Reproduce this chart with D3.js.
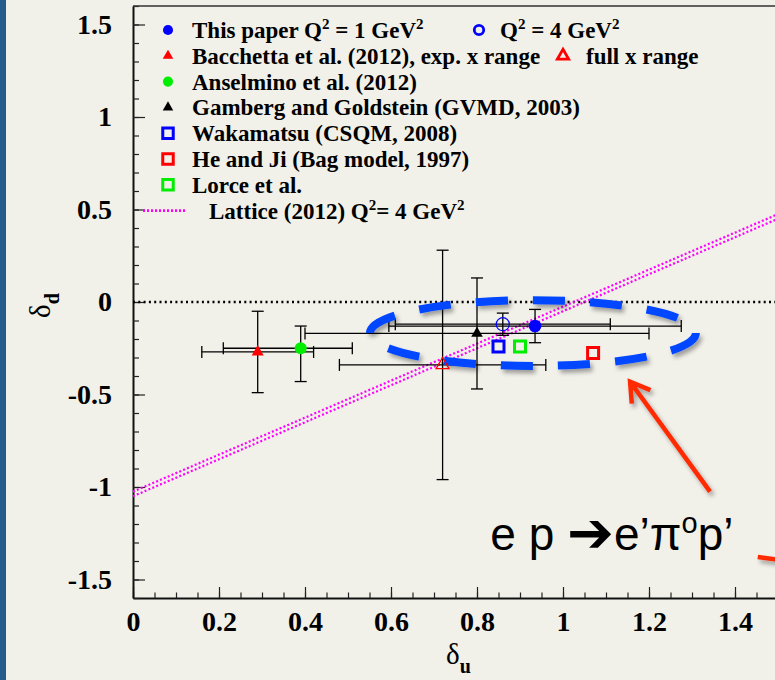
<!DOCTYPE html>
<html>
<head>
<meta charset="utf-8">
<script src="https://cdn.jsdelivr.net/npm/d3@7"></script>
<style>
  html, body { margin: 0; padding: 0; background: #f1f0e9; }
  svg { display: block; }
</style>
</head>
<body>
<svg id="chart" width="775" height="680"></svg>
<script>
// ---- values: delta_u (tensor charge of u) vs delta_d ----
// each entry: u, d, and asymmetric errors [minus, plus]
const thisPaperQ1   = [{ u: 0.935, d: -0.13, uErr: [0.34, 0.34], dErr: [0.09, 0.09] }];
const thisPaperQ4   = [{ u: 0.86,  d: -0.12, uErr: [0.25, 0.25], dErr: [0.06, 0.06] }];
const bacchettaExp  = [{ u: 0.29,  d: -0.27, uErr: [0.13, 0.13], dErr: [0.22, 0.22] }];
const bacchettaFull = [{ u: 0.72,  d: -0.34, uErr: [0.24, 0.24], dErr: [0.62, 0.62] }];
const anselmino     = [{ u: 0.39,  d: -0.25, uErr: [0.18, 0.12], dErr: [0.18, 0.12] }];
const gamberg       = [{ u: 0.80,  d: -0.17, uErr: [0.40, 0.40], dErr: [0.30, 0.30] }];
const wakamatsu     = [{ u: 0.85,  d: -0.24 }];
const heJi          = [{ u: 1.07,  d: -0.275 }];
const lorce         = [{ u: 0.90,  d: -0.24 }];
// lattice band: delta_u - delta_d = g_T, two bounding lines
const latticeGT     = [1.025, 1.05];

// axis ticks
const xMajorTicks = [0, 0.2, 0.4, 0.6, 0.8, 1.0, 1.2, 1.4];
const xTickLabels = ["0", "0.2", "0.4", "0.6", "0.8", "1", "1.2", "1.4"];
const yMajorTicks = [-1.5, -1, -0.5, 0, 0.5, 1, 1.5];
const yTickLabels = ["-1.5", "-1", "-0.5", "0", "0.5", "1", "1.5"];

// annotation: highlighted region and the reaction label
const ellipseCenter = [0.93, -0.168];
const ellipseRadii  = [0.379, 0.178];
const arrowTail = [1.342, -1.025], arrowTip = [1.156, -0.431];
const sideArrowStart = [1.453, -1.378], sideArrowEnd = [1.52, -1.40];
const reactionAt = [0.831, -1.34];

// ---- layout ----
const svg = d3.select("#chart");
const x = d3.scaleLinear().domain([0, 1.5]).range([133, 778]);
const y = d3.scaleLinear().domain([-1.6, 1.6]).range([598, 6]);

const defs = svg.append("defs");
const f = defs.append("filter").attr("id", "shadow")
  .attr("x", "-20%").attr("y", "-40%").attr("width", "150%").attr("height", "200%");
f.append("feDropShadow").attr("dx", 2.5).attr("dy", 3.5).attr("stdDeviation", 2)
  .attr("flood-color", "#000").attr("flood-opacity", 0.35);

// blue strip on the left edge
svg.append("rect").attr("x", 0).attr("y", 0).attr("width", 6).attr("height", 680).attr("fill", "#265b8e");

const serif = "'Liberation Serif', 'Times New Roman', serif";

// ---- axes ----
const gx = svg.append("g").attr("transform", `translate(0,${y(-1.6)})`);
gx.call(d3.axisBottom(x).tickValues(d3.range(0, 1.5001, 0.05)).tickSize(-5.5).tickSizeOuter(0).tickFormat(""));
gx.selectAll(".tick line").attr("stroke", "#222").attr("stroke-width", 1.2);
gx.select(".domain").attr("stroke", "#111").attr("stroke-width", 2);
const gx2 = svg.append("g").attr("transform", `translate(0,${y(-1.6)})`);
gx2.call(d3.axisBottom(x).tickValues(xMajorTicks).tickSize(-11).tickSizeOuter(0).tickPadding(13)
  .tickFormat((d, i) => xTickLabels[i]));
gx2.select(".domain").remove();
gx2.selectAll(".tick line").attr("stroke", "#222").attr("stroke-width", 1.2);
gx2.selectAll("text").attr("font-family", serif).attr("font-weight", "bold").attr("font-size", 28).attr("fill", "#000");

const gy = svg.append("g").attr("transform", `translate(${x(0)},0)`);
gy.call(d3.axisLeft(y).tickValues(d3.range(-1.6, 1.6001, 0.1).map(v => +v.toFixed(2))).tickSize(-6).tickSizeOuter(0).tickFormat(""));
gy.selectAll(".tick line").attr("stroke", "#222").attr("stroke-width", 1.2);
gy.select(".domain").attr("stroke", "#111").attr("stroke-width", 2);
const gy2 = svg.append("g").attr("transform", `translate(${x(0)},0)`);
gy2.call(d3.axisLeft(y).tickValues(yMajorTicks).tickSize(-12).tickSizeOuter(0).tickPadding(21)
  .tickFormat((d, i) => yTickLabels[i]));
gy2.select(".domain").remove();
gy2.selectAll(".tick line").attr("stroke", "#222").attr("stroke-width", 1.2);
gy2.selectAll("text").attr("font-family", serif).attr("font-weight", "bold").attr("font-size", 28).attr("fill", "#000");

// top frame line
svg.append("line").attr("x1", x(0)).attr("x2", x(1.5)).attr("y1", y(1.6)).attr("y2", y(1.6))
  .attr("stroke", "#333").attr("stroke-width", 1.5);

// axis titles
const xt = svg.append("text").attr("x", 446).attr("y", 664).attr("font-family", serif).attr("font-size", 29).attr("fill", "#000");
xt.append("tspan").text("δ");
xt.append("tspan").attr("font-size", 20).attr("font-weight", "bold").attr("dy", 9).text("u");
const yt = svg.append("text").attr("transform", "translate(50,318) rotate(-90)").attr("font-family", serif).attr("font-size", 29).attr("fill", "#000");
yt.append("tspan").text("δ");
yt.append("tspan").attr("font-size", 20).attr("font-weight", "bold").attr("dy", 9).text("d");

// ---- reference lines ----
const plot = svg.append("g");
plot.append("line").attr("x1", x(0)).attr("x2", x(1.5)).attr("y1", y(0)).attr("y2", y(0))
  .attr("stroke", "#000").attr("stroke-width", 2.5).attr("stroke-dasharray", "2 3.3");
latticeGT.forEach(g => {
  plot.append("line")
    .attr("x1", x(0)).attr("y1", y(0 - g))
    .attr("x2", x(1.5)).attr("y2", y(1.5 - g))
    .attr("stroke", "#ff00ff").attr("stroke-width", 2.2).attr("stroke-dasharray", "2 2.2");
});

// ---- error bars ----
const cap = 6;
function errorBars(data) {
  data.filter(p => p.uErr).forEach(p => {
    const g = plot.append("g").attr("stroke", "#000").attr("stroke-width", 1.3).attr("fill", "none");
    const u0 = x(p.u - p.uErr[0]), u1 = x(p.u + p.uErr[1]);
    const d0 = y(p.d - p.dErr[0]), d1 = y(p.d + p.dErr[1]);
    g.append("line").attr("x1", u0).attr("x2", u1).attr("y1", y(p.d)).attr("y2", y(p.d));
    g.append("line").attr("x1", u0).attr("x2", u0).attr("y1", y(p.d) - cap).attr("y2", y(p.d) + cap);
    g.append("line").attr("x1", u1).attr("x2", u1).attr("y1", y(p.d) - cap).attr("y2", y(p.d) + cap);
    g.append("line").attr("x1", x(p.u)).attr("x2", x(p.u)).attr("y1", d0).attr("y2", d1);
    g.append("line").attr("x1", x(p.u) - cap).attr("x2", x(p.u) + cap).attr("y1", d0).attr("y2", d0);
    g.append("line").attr("x1", x(p.u) - cap).attr("x2", x(p.u) + cap).attr("y1", d1).attr("y2", d1);
  });
}
[bacchettaExp, anselmino, gamberg, bacchettaFull, thisPaperQ4, thisPaperQ1].forEach(errorBars);

// ---- markers ----
const styles = {
  q1:    { type: d3.symbolCircle,   size: 125, fill: "#0000ff", stroke: "none", sw: 0 },
  q4:    { type: d3.symbolCircle,   size: 135, fill: "none",    stroke: "#0000ff", sw: 1.2 },
  bExp:  { type: d3.symbolTriangle, size: 62,  fill: "#ff0000", stroke: "none", sw: 0 },
  bFull: { type: d3.symbolTriangle, size: 72,  fill: "none",    stroke: "#ff0000", sw: 1.3 },
  ans:   { type: d3.symbolCircle,   size: 115, fill: "#00ee00", stroke: "none", sw: 0 },
  gam:   { type: d3.symbolTriangle, size: 58,  fill: "#000",    stroke: "none", sw: 0 },
  wak:   { type: d3.symbolSquare,   size: 121, fill: "none",    stroke: "#0000ff", sw: 3 },
  he:    { type: d3.symbolSquare,   size: 121, fill: "none",    stroke: "#ff0000", sw: 3 },
  lor:   { type: d3.symbolSquare,   size: 121, fill: "none",    stroke: "#00ee00", sw: 3 }
};
function markers(data, s) {
  plot.selectAll(null).data(data).join("path")
    .attr("transform", p => `translate(${x(p.u)},${y(p.d)})`)
    .attr("d", d3.symbol().type(s.type).size(s.size))
    .attr("fill", s.fill).attr("stroke", s.stroke).attr("stroke-width", s.sw);
}

// highlighted region drawn under the model points (12 dashes around)
plot.append("ellipse")
  .attr("cx", x(ellipseCenter[0])).attr("cy", y(ellipseCenter[1]))
  .attr("rx", x(ellipseRadii[0]) - x(0)).attr("ry", y(0) - y(ellipseRadii[1]))
  .attr("pathLength", 684)
  .attr("fill", "none").attr("stroke", "#0047ff").attr("stroke-width", 8)
  .attr("stroke-dasharray", "32 25")
  .attr("filter", "url(#shadow)");

markers(bacchettaExp, styles.bExp);
markers(anselmino, styles.ans);
markers(gamberg, styles.gam);
markers(bacchettaFull, styles.bFull);
markers(wakamatsu, styles.wak);
markers(lorce, styles.lor);
markers(heJi, styles.he);
markers(thisPaperQ4, styles.q4);
markers(thisPaperQ1, styles.q1);

// ---- legend ----
const legend = svg.append("g").attr("font-family", serif).attr("font-weight", "bold").attr("font-size", 23).attr("fill", "#000");
const rowY = i => 30 + 25.8 * i;
function legendText(xPos, yPos, parts) {
  const t = legend.append("text").attr("x", xPos).attr("y", yPos).attr("dy", "0.35em");
  parts.forEach(([str, sup]) => {
    if (sup) t.append("tspan").attr("font-size", 15).attr("baseline-shift", "62%").text(str);
    else t.append("tspan").text(str);
  });
}
function legendMarker(xPos, yPos, s, size, sw) {
  legend.append("path").attr("transform", `translate(${xPos},${yPos})`)
    .attr("d", d3.symbol().type(s.type).size(size))
    .attr("fill", s.fill).attr("stroke", s.stroke).attr("stroke-width", sw);
}
legendMarker(168, rowY(0), styles.q1, 80, 0);
legendText(192, rowY(0), [["This paper Q"], ["2", true], [" = 1 GeV"], ["2", true]]);
legendMarker(479, rowY(0), styles.q4, 70, 2.8);
legendText(500, rowY(0), [["Q"], ["2", true], [" = 4 GeV"], ["2", true]]);
legendMarker(168, rowY(1), styles.bExp, 48, 0);
legendText(192, rowY(1), [["Bacchetta et al. (2012), exp. x range"]]);
legendMarker(563, rowY(1), styles.bFull, 55, 2.8);
legendText(586, rowY(1), [["full x range"]]);
legendMarker(168, rowY(2), styles.ans, 80, 0);
legendText(192, rowY(2), [["Anselmino et al. (2012)"]]);
legendMarker(168, rowY(3), styles.gam, 48, 0);
legendText(192, rowY(3), [["Gamberg and Goldstein (GVMD, 2003)"]]);
legendMarker(168, rowY(4), styles.wak, 110, 3);
legendText(192, rowY(4), [["Wakamatsu (CSQM, 2008)"]]);
legendMarker(168, rowY(5), styles.he, 110, 3);
legendText(192, rowY(5), [["He and Ji (Bag model, 1997)"]]);
legendMarker(168, rowY(6), styles.lor, 110, 3);
legendText(192, rowY(6), [["Lorce et al."]]);
legend.append("line").attr("x1", 143).attr("x2", 185).attr("y1", rowY(7)).attr("y2", rowY(7))
  .attr("stroke", "#ff00ff").attr("stroke-width", 2.8).attr("stroke-dasharray", "2 2");
legendText(209, rowY(7), [["Lattice (2012) Q"], ["2", true], ["= 4 GeV"], ["2", true]]);

// ---- annotation ----
const ann = svg.append("g").attr("filter", "url(#shadow)");
function arrow(from, to, head) {
  const x0 = x(from[0]), y0 = y(from[1]), x1 = x(to[0]), y1 = y(to[1]);
  const a = Math.atan2(y1 - y0, x1 - x0);
  let d = `M${x0},${y0}L${x1},${y1}`;
  if (head) {
    const L = 22, w = 0.55;
    d += `M${x1 - L * Math.cos(a - w)},${y1 - L * Math.sin(a - w)}L${x1},${y1}L${x1 - L * Math.cos(a + w)},${y1 - L * Math.sin(a + w)}`;
  }
  ann.append("path").attr("d", d).attr("fill", "none").attr("stroke", "#ff2a00")
    .attr("stroke-width", 4.5).attr("stroke-linecap", "butt").attr("stroke-linejoin", "miter");
}
arrow(arrowTail, arrowTip, true);
arrow(sideArrowStart, sideArrowEnd, false);

const rt = svg.append("text").attr("x", x(reactionAt[0])).attr("y", y(reactionAt[1]))
  .attr("font-family", "'Liberation Sans', Arial, sans-serif").attr("font-size", 46).attr("fill", "#000");
rt.append("tspan").text("e p ");
rt.append("tspan").attr("font-family", "'DejaVu Sans', sans-serif").attr("font-size", 56).attr("dy", 2).text("➔");
rt.append("tspan").attr("dy", -2).text("e’π");
rt.append("tspan").attr("font-size", 29).attr("baseline-shift", "58%").text("o");
rt.append("tspan").text("p’");
</script>
</body>
</html>
